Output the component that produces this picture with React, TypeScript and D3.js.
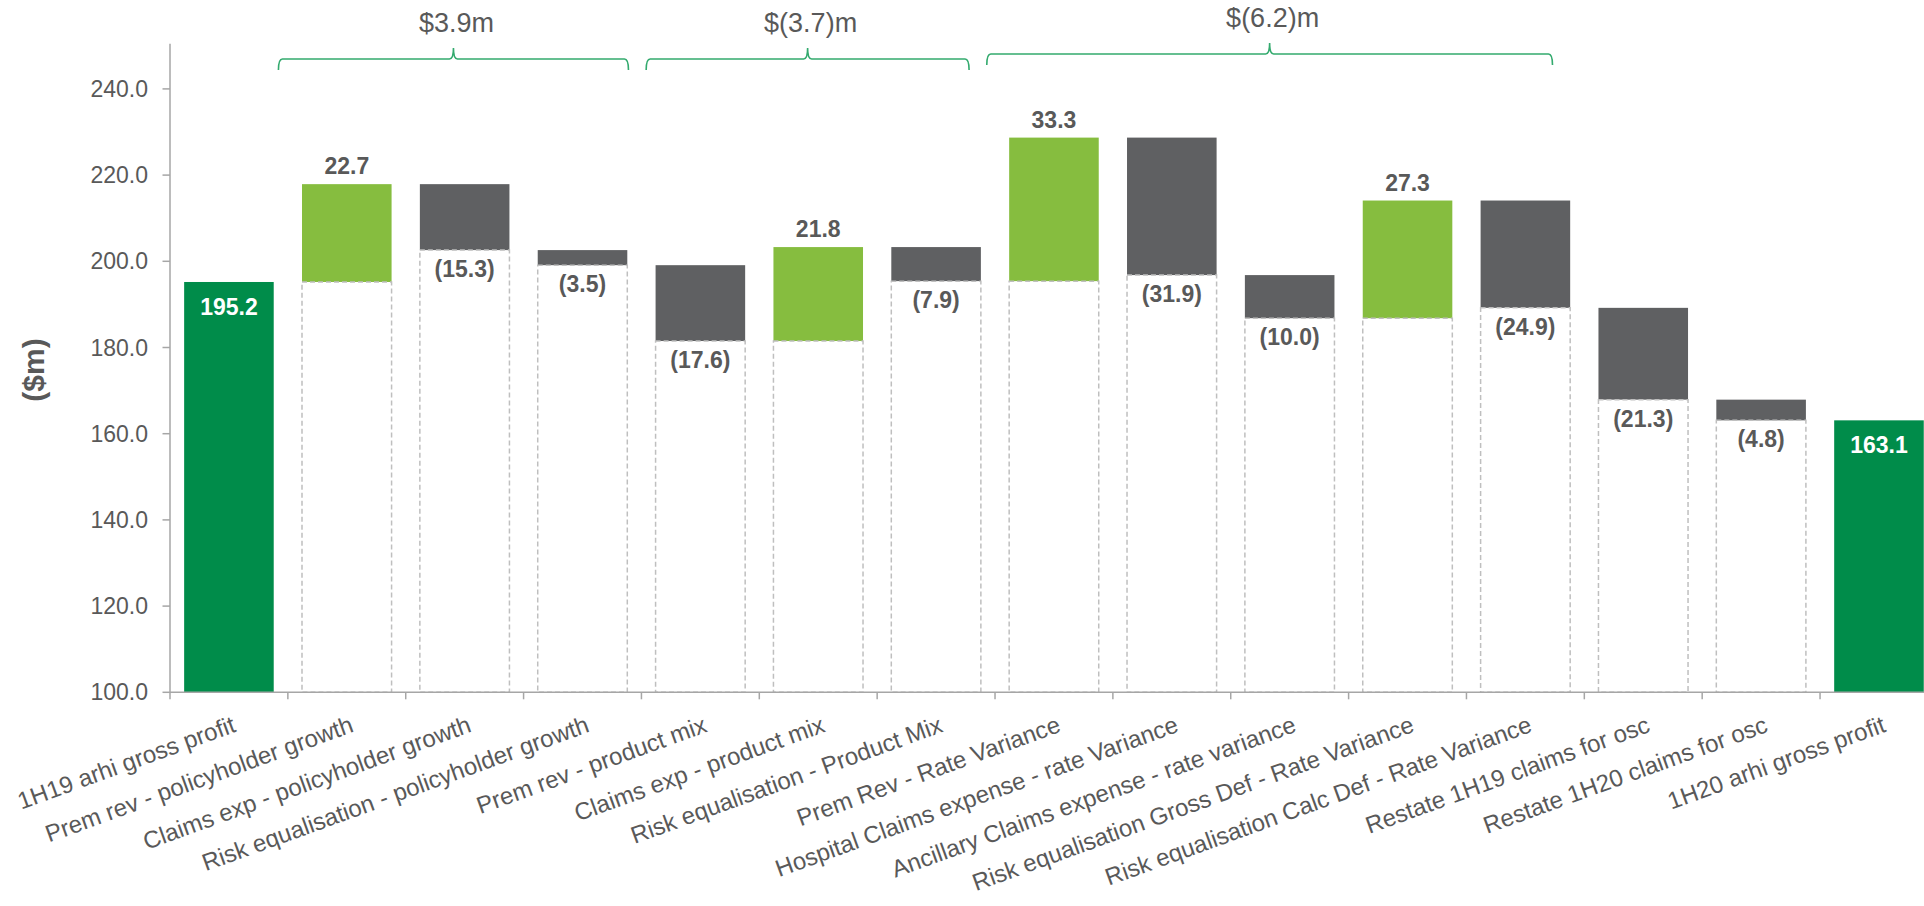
import React from 'react';
import * as d3 from 'd3';

// ---- data ----
const categories = [
  '1H19 arhi gross profit',
  'Prem rev - policyholder growth',
  'Claims exp - policyholder growth',
  'Risk equalisation - policyholder growth',
  'Prem rev - product mix',
  'Claims exp - product mix',
  'Risk equalisation - Product Mix',
  'Prem Rev - Rate Variance',
  'Hospital Claims expense - rate Variance',
  'Ancillary Claims expense - rate variance',
  'Risk equalisation Gross Def - Rate Variance',
  'Risk equalisation Calc Def - Rate Variance',
  'Restate 1H19 claims for osc',
  'Restate 1H20 claims for osc',
  '1H20 arhi gross profit',
];
const values = [195.2, 22.7, -15.3, -3.5, -17.6, 21.8, -7.9, 33.3, -31.9, -10.0, 27.3, -24.9, -21.3, -4.8, 163.1];
const isTotal = [true, false, false, false, false, false, false, false, false, false, false, false, false, false, true];
const yTicks = [100, 120, 140, 160, 180, 200, 220, 240];
const yDomain = [100, 250];
const groupLabels = ['$3.9m', '$(3.7)m', '$(6.2)m'];
// bracket spans in category-index units (start, end)
const groupSpans: [number, number][] = [[0.92, 3.89], [4.04, 6.78], [6.93, 11.73]];
const groupRaise = [0, 0, 5];

// ---- layout / style ----
const W = 1924;
const H = 906;
const X0 = 170;
const STEP = 117.86;
const Y_BOTTOM = 692.3;
const Y_TOP = 45.8;

const C_TOTAL = '#008C4A';
const C_POS = '#86BD3F';
const C_NEG = '#5F6062';
const C_TEXT = '#595959';
const C_AXIS = '#A6A6A6';
const C_DASH = '#BFBFBF';
const C_BRACE = '#33AA6E';
const FONT = 'Arial, "Liberation Sans", sans-serif';

export default function App() {
  const x = d3
    .scaleBand<string>()
    .domain(categories)
    .range([X0, X0 + STEP * categories.length])
    .paddingInner(0.24)
    .paddingOuter(0.12);
  const xIdx = d3.scaleLinear().domain([0, categories.length]).range([X0, X0 + STEP * categories.length]);
  const y = d3.scaleLinear().domain(yDomain).range([Y_BOTTOM, Y_TOP]);
  const fmt = d3.format('.1f');

  let running = 0;
  const bars = categories.map((c, i) => {
    let start: number;
    let end: number;
    if (isTotal[i]) {
      start = yDomain[0];
      end = values[i];
      running = values[i];
    } else {
      start = running;
      end = running + values[i];
      running = end;
    }
    return { c, i, start, end, lo: Math.min(start, end), hi: Math.max(start, end), v: values[i], total: isTotal[i] };
  });

  const bw = x.bandwidth();

  const bracePath = (x1: number, x2: number, y0: number) => {
    const xc = (x1 + x2) / 2;
    const d = 11;
    const r = 4;
    return `M${x1},${y0 + d} Q${x1},${y0} ${x1 + r},${y0} L${xc - r},${y0} Q${xc},${y0} ${xc},${y0 - d} Q${xc},${y0} ${xc + r},${y0} L${x2 - r},${y0} Q${x2},${y0} ${x2},${y0 + d}`;
  };

  return (
    <svg
      width={W}
      height={H}
      style={{ position: 'absolute', left: 0, top: 0, background: '#fff' }}
      fontFamily={FONT}
    >
      {/* dashed invisible bases */}
      {/* coloured bars */}
      {bars.map((b) => (
        <rect
          key={'bar' + b.i}
          x={x(b.c)!}
          y={y(b.hi)}
          width={bw}
          height={y(b.lo) - y(b.hi)}
          fill={b.total ? C_TOTAL : b.v >= 0 ? C_POS : C_NEG}
        />
      ))}
      {bars
        .filter((b) => !b.total)
        .map((b) => (
          <rect
            key={'base' + b.i}
            x={x(b.c)!}
            y={y(b.lo)}
            width={bw}
            height={y(yDomain[0]) - y(b.lo)}
            fill="none"
            stroke={C_DASH}
            strokeWidth={1.5}
            strokeDasharray="5,3"
          />
        ))}

      {/* axes */}
      <line x1={X0} x2={W + 20} y1={Y_BOTTOM} y2={Y_BOTTOM} stroke={C_AXIS} strokeWidth={1.5} />
      <line x1={X0} x2={X0} y1={Y_TOP - 2} y2={Y_BOTTOM} stroke={C_AXIS} strokeWidth={1.5} />
      {yTicks.map((t) => (
        <g key={'yt' + t}>
          <line x1={X0 - 7.5} x2={X0} y1={y(t)} y2={y(t)} stroke={C_AXIS} strokeWidth={1.5} />
          <text x={148} y={y(t)} dy="0.35em" textAnchor="end" fontSize={23} fill={C_TEXT}>
            {fmt(t)}
          </text>
        </g>
      ))}
      {d3.range(categories.length + 1).map((k) => (
        <line
          key={'xt' + k}
          x1={xIdx(k)}
          x2={xIdx(k)}
          y1={Y_BOTTOM}
          y2={Y_BOTTOM + 7}
          stroke={C_AXIS}
          strokeWidth={1.5}
        />
      ))}
      {categories.map((c) => (
        <text
          key={'xl' + c}
          transform={`translate(${x(c)! + bw / 2 + 8},${Y_BOTTOM + 39}) rotate(-20)`}
          textAnchor="end"
          fontSize={24}
          fill={C_TEXT}
        >
          {c}
        </text>
      ))}
      <text
        transform={`translate(44,370) rotate(-90)`}
        textAnchor="middle"
        fontSize={30}
        fontWeight="bold"
        fill={C_TEXT}
      >
        ($m)
      </text>

      {/* value labels */}
      {bars.map((b) => {
        const cx = x(b.c)! + bw / 2;
        if (b.total) {
          return (
            <text key={'vl' + b.i} x={cx} y={y(b.hi) + 33} textAnchor="middle" fontSize={23} fontWeight="bold" fill="#fff">
              {fmt(b.v)}
            </text>
          );
        }
        if (b.v >= 0) {
          return (
            <text key={'vl' + b.i} x={cx} y={y(b.hi) - 10} textAnchor="middle" fontSize={23} fontWeight="bold" fill={C_TEXT}>
              {fmt(b.v)}
            </text>
          );
        }
        return (
          <text key={'vl' + b.i} x={cx} y={y(b.lo) + 27} textAnchor="middle" fontSize={23} fontWeight="bold" fill={C_TEXT}>
            {`(${fmt(-b.v)})`}
          </text>
        );
      })}

      {/* group braces */}
      {groupSpans.map(([a, bEnd], g) => {
        const x1 = xIdx(a);
        const x2 = xIdx(bEnd);
        const y0 = 59 - groupRaise[g];
        return (
          <g key={'br' + g}>
            <path d={bracePath(x1, x2, y0)} fill="none" stroke={C_BRACE} strokeWidth={1.6} />
            <text x={(x1 + x2) / 2 + 3} y={y0 - 27} textAnchor="middle" fontSize={27} fill={C_TEXT}>
              {groupLabels[g]}
            </text>
          </g>
        );
      })}
    </svg>
  );
}
